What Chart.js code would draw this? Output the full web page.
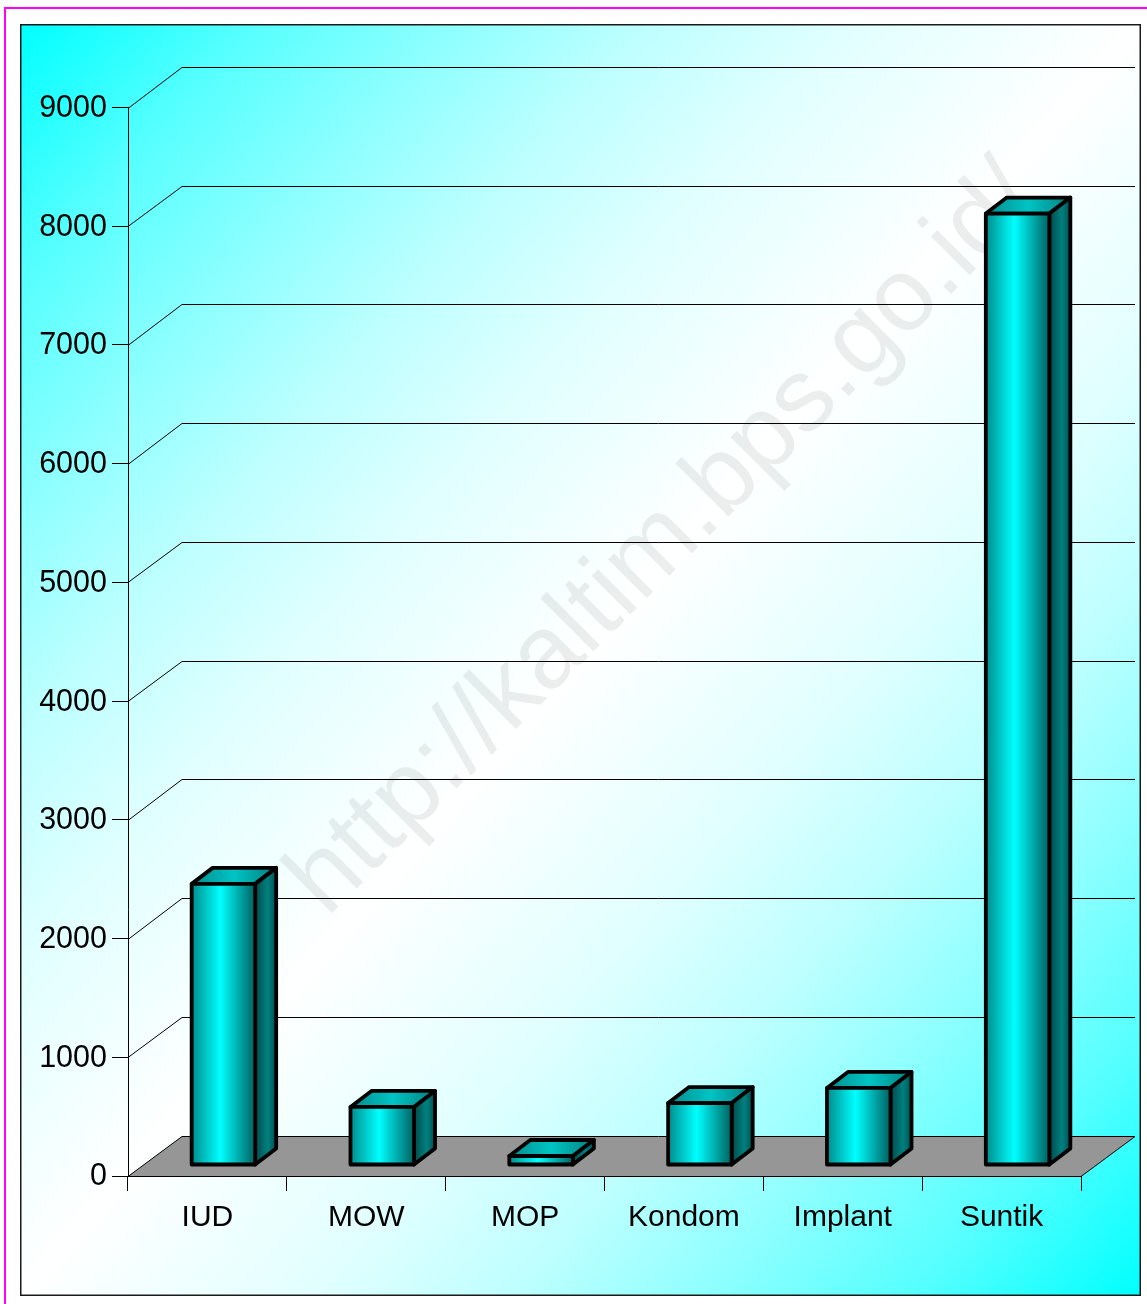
<!DOCTYPE html>
<html>
<head>
<meta charset="utf-8">
<title>Chart</title>
<style>
    html, body { margin: 0; padding: 0; background: #fff; }
    canvas { display: block; }
</style>
<script src="https://cdn.jsdelivr.net/npm/chart.js@4"></script>
</head>
<body>
<canvas id="kbChart" width="1147" height="1304"></canvas>
<script>
const categories = ["IUD", "MOW", "MOP", "Kondom", "Implant", "Suntik"];
const peserta = [2368, 489, 76, 522, 649, 8014];
const yMax = 9000;
const yStep = 1000;

const fontFamily = "'Liberation Sans', Arial, sans-serif";

// ================= 3D SETTINGS =================

const wallDx = 54, wallDy = -40.5;
const barDx = 16, barDy = -11;
const depthDx = 21, depthDy = -16;

function horizontalGradient(ctx, x0, x1, stops) {
    const g = ctx.createLinearGradient(x0, 0, x1, 0);
    stops.forEach(s => g.addColorStop(s[0], s[1]));
    return g;
}

function polygon(ctx, pts) {
    ctx.beginPath();
    pts.forEach((p, i) => i ? ctx.lineTo(p[0], p[1]) : ctx.moveTo(p[0], p[1]));
    ctx.closePath();
}

// ================= BACKGROUND, FRAME, WALLS =================

const backdrop = {
    id: "backdrop",
    beforeDraw(chart) {
        const ctx = chart.ctx;
        const x = 21, y = 25, w = 1119, h = 1270;

        ctx.save();

        ctx.fillStyle = "#fff";
        ctx.fillRect(0, 0, chart.width, chart.height);

        // magenta page edge
        ctx.fillStyle = "#ff00ff";
        ctx.fillRect(4, 7, chart.width - 4, 2);
        ctx.fillRect(4, 7, 2, chart.height - 7);

        // white band runs along the top right - bottom left diagonal
        const len2 = w * w + h * h;
        const cx = x + w / 2, cy = y + h / 2;
        const k = w * h / len2;
        const g = ctx.createLinearGradient(cx - h * k, cy - w * k, cx + h * k, cy + w * k);
        [[0, 0], [0.1, 85], [0.19, 140], [0.28, 190], [0.37, 225], [0.5, 255]].forEach(s => {
            g.addColorStop(s[0], "rgb(" + s[1] + ",255,255)");
            g.addColorStop(1 - s[0], "rgb(" + s[1] + ",255,255)");
        });
        ctx.fillStyle = g;
        ctx.fillRect(x, y, w, h);

        ctx.strokeStyle = "#1a1a1a";
        ctx.lineWidth = 1.5;
        ctx.strokeRect(x - 0.25, y - 0.25, w + 0.5, h + 0.5);

        ctx.restore();
    },
    beforeDatasetsDraw(chart) {
        const ctx = chart.ctx;
        const xs = chart.scales.x, ys = chart.scales.y;
        const l = xs.left, r = xs.right;

        // watermark sits behind the lines and boxes
        ctx.save();
        ctx.translate(327, 918);
        ctx.rotate(-Math.PI / 4);
        ctx.font = "104px " + fontFamily;
        ctx.textAlign = "left";
        ctx.textBaseline = "alphabetic";
        ctx.fillStyle = "rgba(0, 0, 0, 0.07)";
        ctx.fillText("http://kaltim.bps.go.id/", 0, 0);
        ctx.restore();

        ctx.save();
        ctx.strokeStyle = "#000";
        ctx.lineWidth = 1;

        // floor
        const y0 = Math.round(ys.getPixelForValue(0)) + 0.5;
        const yBack = Math.round(y0 + wallDy) + 0.5;
        polygon(ctx, [[l, y0], [l + wallDx, yBack], [r + wallDx, yBack], [r, y0]]);
        ctx.fillStyle = "#969696";
        ctx.fill();
        ctx.stroke();

        // side wall and back wall lines
        ys.ticks.forEach(t => {
            if (t.value === 0) return;
            const py = ys.getPixelForValue(t.value);
            const back = Math.round(py + wallDy) + 0.5;
            ctx.beginPath();
            ctx.moveTo(l, Math.round(py) + 0.5);
            ctx.lineTo(l + wallDx, back);
            ctx.lineTo(r + wallDx, back);
            ctx.stroke();
        });

        ctx.restore();
    }
};

// ================= BOXES =================

const boxes = {
    id: "boxes",
    afterDatasetsDraw(chart) {
        const ctx = chart.ctx;
        const bars = chart.getDatasetMeta(0).data;

        ctx.save();
        ctx.strokeStyle = "#000";
        ctx.lineWidth = 3.8;
        ctx.lineJoin = "round";

        bars.forEach(b => {
            const left = b.x - b.width / 2 + barDx;
            const right = b.x + b.width / 2 + barDx;
            const top = b.y + barDy;
            const bottom = b.base + barDy;

            polygon(ctx, [[left, top], [left + depthDx, top + depthDy], [right + depthDx, top + depthDy], [right, top]]);
            ctx.fillStyle = horizontalGradient(ctx, left, right + depthDx, [
                [0, "#008c8c"], [0.5, "#00c4c4"], [1, "#008080"]
            ]);
            ctx.fill();
            ctx.stroke();

            polygon(ctx, [[right, top], [right + depthDx, top + depthDy], [right + depthDx, bottom + depthDy], [right, bottom]]);
            ctx.fillStyle = horizontalGradient(ctx, right, right + depthDx, [
                [0, "#004a4a"], [0.6, "#008080"], [1, "#004f4f"]
            ]);
            ctx.fill();
            ctx.stroke();

            polygon(ctx, [[left, top], [right, top], [right, bottom], [left, bottom]]);
            ctx.fillStyle = horizontalGradient(ctx, left, right, [
                [0, "#008c8c"], [0.45, "#00ffff"], [1, "#006060"]
            ]);
            ctx.fill();
            ctx.stroke();
        });

        ctx.restore();
    }
};

// ================= CHART =================

new Chart(document.getElementById("kbChart"), {
    type: "bar",
    data: {
        labels: categories,
        datasets: [{
            data: peserta,
            backgroundColor: "transparent",
            borderWidth: 0,
            categoryPercentage: 1,
            barPercentage: 0.4
        }]
    },
    options: {
        responsive: false,
        animation: false,
        layout: { padding: { left: 0, right: 66, top: 107.5, bottom: 0 } },
        plugins: {
            legend: { display: false },
            title: { display: false },
            tooltip: { enabled: false }
        },
        scales: {
            x: {
                afterFit(scale) { scale.height = 128; },
                grid: { drawOnChartArea: false, tickLength: 15, tickColor: "#000", tickWidth: 1 },
                border: { color: "#000", width: 1 },
                ticks: {
                    color: "#000",
                    font: { family: fontFamily, size: 30 },
                    padding: 9,
                    maxRotation: 0,
                    autoSkip: false
                }
            },
            y: {
                min: 0,
                max: yMax,
                afterFit(scale) { scale.width = 128; },
                grid: { drawOnChartArea: false, tickLength: 16, tickColor: "#000", tickWidth: 1 },
                border: { color: "#000", width: 1 },
                ticks: {
                    stepSize: yStep,
                    color: "#000",
                    font: { family: fontFamily, size: 30.5 },
                    padding: 5,
                    labelOffset: 1,
                    autoSkip: false,
                    callback: v => String(v)
                }
            }
        }
    },
    plugins: [backdrop, boxes]
});
</script>
</body>
</html>
